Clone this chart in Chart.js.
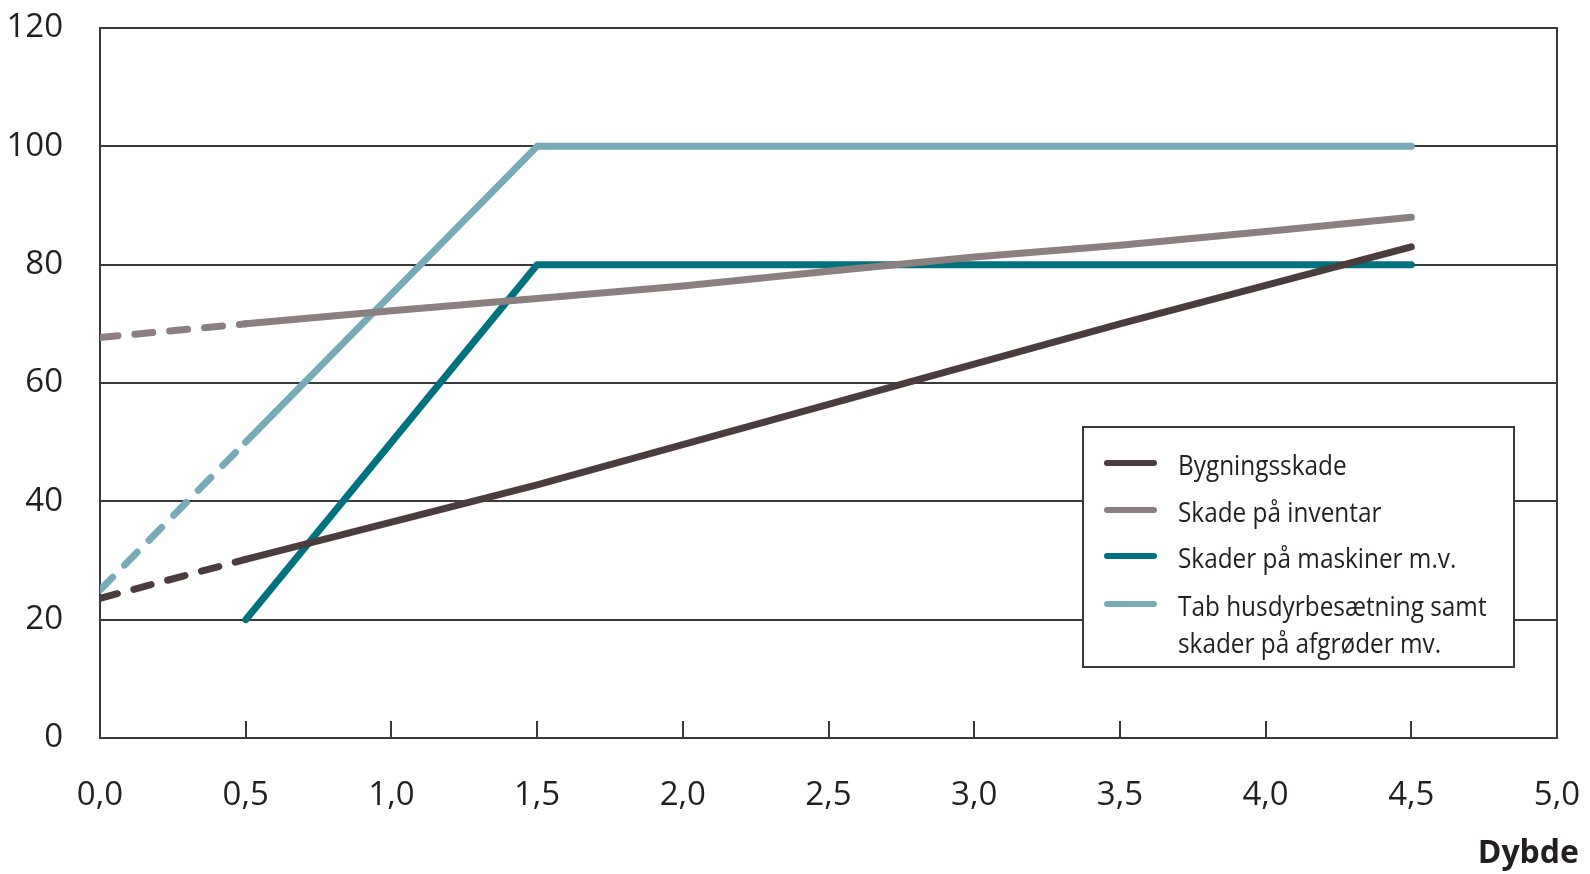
<!DOCTYPE html>
<html>
<head>
<meta charset="utf-8">
<script src="https://cdn.jsdelivr.net/npm/chart.js@4.4.1/dist/chart.umd.min.js"></script>
<style>
  html, body { margin: 0; padding: 0; background: #fff; }
  #wrap { width: 1590px; height: 874px; }
</style>
</head>
<body>
<div id="wrap"><canvas id="dybde_chart"></canvas></div>
<script>
// D A T A
const xTicks = [0, 0.5, 1, 1.5, 2, 2.5, 3, 3.5, 4, 4.5, 5];
const yTicks = [0, 20, 40, 60, 80, 100, 120];

const seriesNames = [
    ['Bygningsskade'],
    ['Skade på inventar'],
    ['Skader på maskiner m.v.'],
    ['Tab husdyrbesætning samt', 'skader på afgrøder mv.']
];
const seriesColors = ['#4b3d3e', '#8b7f80', '#00717f', '#76abb7'];

// Bygningsskade
const bygX = [0, 0.5, 1.5, 3.5, 4.5];
const bygY = [23.6, 30.2, 42.8, 70, 83];
// Skade på inventar
const invX = [0, 0.5, 1.0, 1.5, 2.0, 2.5, 3.0, 3.5, 4.0, 4.5];
const invY = [67.7, 70, 72.2, 74.3, 76.4, 78.9, 81.3, 83.3, 85.6, 88];
// Skader på maskiner
const masX = [0.5, 1.5, 4.5];
const masY = [20, 80, 80];
// Tab husdyrbesætning
const husX = [0, 0.5, 1.5, 4.5];
const husY = [25, 50, 100, 100];
// first segment (0 -> 0.5) is dashed for these series
const dashedStart = [true, true, false, true];

const xs = [bygX, invX, masX, husX];
const ys = [bygY, invY, masY, husY];

const toPoints = (xv, yv) => xv.map((x, i) => ({ x: x, y: yv[i] }));

// plot box + inward ticks
const frame_plugin = {
    id: 'frame',
    beforeDatasetsDraw(chart) {
        const ctx = chart.ctx;
        const a = chart.chartArea;
        const xs_ = chart.scales.x;
        ctx.save();
        ctx.strokeStyle = '#3a3a3a';
        ctx.lineWidth = 2;
        ctx.strokeRect(a.left, a.top, a.right - a.left, a.bottom - a.top);
        ctx.beginPath();
        xTicks.slice(1, -1).forEach(v => {
            const px = Math.round(xs_.getPixelForValue(v));
            ctx.moveTo(px, a.bottom);
            ctx.lineTo(px, a.bottom - 17);
        });
        ctx.stroke();
        ctx.restore();
    }
};

// legend box inside the plot + axis title
const legend_plugin = {
    id: 'boxLegend',
    afterDatasetsDraw(chart) {
        const ctx = chart.ctx;
        ctx.save();
        // box
        ctx.fillStyle = '#fff';
        ctx.fillRect(1083, 427, 431, 240);
        ctx.strokeStyle = '#3a3a3a';
        ctx.lineWidth = 2;
        ctx.strokeRect(1083, 427, 431, 240);
        const rows = [463, 510, 556, 604];
        seriesNames.forEach((lines, i) => {
            ctx.strokeStyle = seriesColors[i];
            ctx.lineWidth = 6;
            ctx.lineCap = 'round';
            ctx.beginPath();
            ctx.moveTo(1107, rows[i]);
            ctx.lineTo(1154, rows[i]);
            ctx.stroke();
            // condensed look: squeeze text horizontally
            ctx.save();
            ctx.translate(1178, 0);
            ctx.scale(0.87, 1);
            ctx.font = '28px "Open Sans", sans-serif';
            ctx.textBaseline = 'alphabetic';
            ctx.textAlign = 'left';
            ctx.fillStyle = '#231f20';
            lines.forEach((t, j) => ctx.fillText(t, 0, rows[i] + 12 + j * 37));
            ctx.restore();
        });
        // axis title
        ctx.font = 'bold 32px "Open Sans", sans-serif';
        ctx.textAlign = 'right';
        ctx.textBaseline = 'alphabetic';
        ctx.fillStyle = '#231f20';
        ctx.fillText('Dybde', 1579, 863);
        ctx.restore();
    }
};

const dybde_chart = document.getElementById('dybde_chart');
new Chart(dybde_chart, {
    type: 'line',
    data: {
        datasets: seriesNames.map((name, i) => ({
            label: name.join(' '),
            data: toPoints(xs[i], ys[i]),
            borderColor: seriesColors[i],
            backgroundColor: seriesColors[i],
            borderWidth: 7,
            borderCapStyle: 'round',
            borderJoinStyle: 'round',
            pointRadius: 0,
            fill: false,
            tension: 0,
            segment: {
                borderDash: ctx => (dashedStart[i] && ctx.p0DataIndex === 0) ? [18, 17] : []
            }
        }))
    },
    plugins: [frame_plugin, legend_plugin],
    options: {
        responsive: true,
        maintainAspectRatio: false,
        animation: false,
        layout: { padding: 0 },
        scales: {
            x: {
                type: 'linear',
                min: 0,
                max: 5,
                afterBuildTicks: s => { s.ticks = xTicks.map(v => ({ value: v })); },
                afterFit: s => { s.height = 136; s.paddingLeft = 0; s.paddingRight = 33; },
                ticks: {
                    padding: 38,
                    color: '#231f20',
                    font: { size: 33, family: '"Open Sans", sans-serif' },
                    callback: v => v.toFixed(1).replace('.', ',')
                },
                grid: { display: false, drawTicks: false },
                border: { display: false }
            },
            y: {
                min: 0,
                max: 120,
                afterBuildTicks: s => { s.ticks = yTicks.map(v => ({ value: v })); },
                afterFit: s => { s.width = 100; s.paddingTop = 28; s.paddingBottom = 0; },
                ticks: {
                    padding: 37,
                    color: '#231f20',
                    font: { size: 33, family: '"Open Sans", sans-serif' }
                },
                grid: { color: '#3a3a3a', lineWidth: 2, drawTicks: false },
                border: { display: false }
            }
        },
        plugins: {
            legend: { display: false },
            tooltip: { enabled: false }
        }
    }
});
</script>
</body>
</html>
